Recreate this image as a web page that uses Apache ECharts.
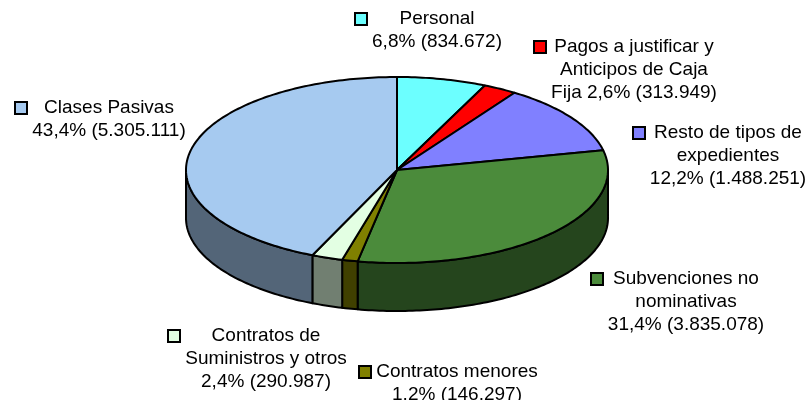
<!DOCTYPE html>
<html>
<head>
<meta charset="utf-8">
<title>Pie 3D expedientes</title>
<script type="text/javascript" src="https://cdn.jsdelivr.net/npm/echarts@6/dist/echarts.min.js"></script>
<style>
html, body { margin: 0; padding: 0; background: #fff; }
#main { width: 810px; height: 400px; }
</style>
</head>
<body>
<div id="main"></div>
<script>
// datos
var categories = ['Personal', 'Pagos a justificar y\nAnticipos de Caja\nFija', 'Resto de tipos de\nexpedientes',
    'Subvenciones no\nnominativas', 'Contratos menores', 'Contratos de\nSuministros y otros', 'Clases Pasivas'];
var values = [834672, 313949, 1488251, 3835078, 146297, 290987, 5305111];
// separador entre nombre y porcentaje
var joiner = ['\n', ' ', '\n', '\n', '\n', '\n', '\n'];

// estilo
var colors = ['#6CFFFF', '#FF0000', '#8080FF', '#4B8B3B', '#808000', '#E3FFE3', '#A6CAF0'];
// centro del texto, primera linea
var labelPos = [[437, 19], [634, 47], [728, 133], [686, 279], [457, 372], [266, 336], [109, 108]];

var CX = 397, CY = 170, RX = 211, RY = 93, DEPTH = 48;
var FONT = '19px "Liberation Sans", Arial, sans-serif';
var LINE_H = 23;

var total = 0;
values.forEach(function (v) { total += v; });
var starts = [0];
values.forEach(function (v, i) { starts.push(starts[i] + v / total * Math.PI * 2); });

function fmtNum(v) {
    return String(v).replace(/\B(?=(\d{3})+(?!\d))/g, '.');
}
function fmtPct(v) {
    return (v / total * 100).toFixed(1).replace('.', ',') + '%';
}
function darker(hex) {
    var n = parseInt(hex.slice(1), 16);
    var r = ((n >> 16) & 255) >> 1, g = ((n >> 8) & 255) >> 1, b = (n & 255) >> 1;
    return 'rgb(' + r + ',' + g + ',' + b + ')';
}
function pt(t, dy) {
    return [CX + RX * Math.sin(t), CY - RY * Math.cos(t) + dy];
}
function arc(a0, a1, dy) {
    var n = Math.max(2, Math.ceil((a1 - a0) / (Math.PI / 180)));
    var pts = [];
    for (var k = 0; k <= n; k++) {
        pts.push(pt(a0 + (a1 - a0) * k / n, dy));
    }
    return pts;
}

var measureCtx = document.createElement('canvas').getContext('2d');
measureCtx.font = FONT;

var option = {
    animation: false,
    series: [{
        type: 'custom',
        coordinateSystem: 'none',
        data: values,
        renderItem: function (params, api) {
            var i = params.dataIndex;
            var a0 = starts[i];
            var a1 = a0 + api.value(0) / total * Math.PI * 2;
            var color = colors[i];
            var children = [];

            // lateral (solo la parte delantera)
            var s0 = Math.max(a0, Math.PI / 2), s1 = Math.min(a1, Math.PI * 1.5);
            if (s1 > s0) {
                children.push({
                    type: 'polygon',
                    shape: { points: arc(s0, s1, 0).concat(arc(s0, s1, DEPTH).reverse()) },
                    style: { fill: darker(color), stroke: '#000', lineWidth: 2, lineJoin: 'round' }
                });
            }
            // cara superior
            children.push({
                type: 'polygon',
                shape: { points: [[CX, CY]].concat(arc(a0, a1, 0)) },
                style: { fill: color, stroke: '#000', lineWidth: 2, lineJoin: 'round' }
            });

            // etiqueta
            var text = categories[i] + joiner[i] + fmtPct(api.value(0)) + ' (' + fmtNum(api.value(0)) + ')';
            var w = 0;
            text.split('\n').forEach(function (l) { w = Math.max(w, measureCtx.measureText(l).width); });
            var lx = labelPos[i][0], ly = labelPos[i][1];
            children.push({
                type: 'text',
                style: {
                    x: lx, y: ly - LINE_H / 2,
                    text: text,
                    font: FONT,
                    fill: '#000',
                    align: 'center', textAlign: 'center',
                    verticalAlign: 'top', textVerticalAlign: 'top',
                    lineHeight: LINE_H
                }
            });
            children.push({
                type: 'rect',
                shape: { x: Math.round(lx - w / 2 - 17), y: ly - 6, width: 12, height: 12 },
                style: { fill: color, stroke: '#000', lineWidth: 2 }
            });
            return { type: 'group', children: children };
        }
    }]
};

var myChart = echarts.init(document.getElementById('main'));
myChart.setOption(option);
</script>
</body>
</html>
